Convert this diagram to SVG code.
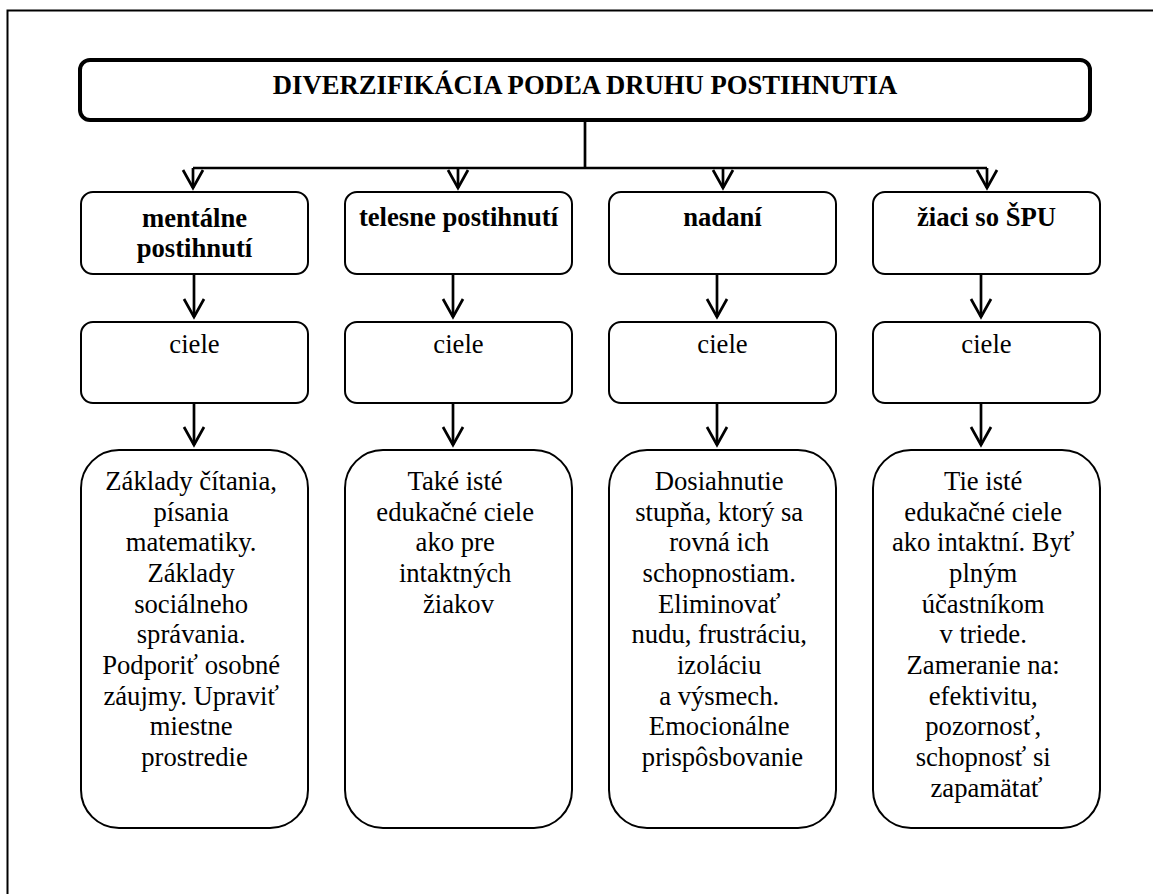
<svg xmlns="http://www.w3.org/2000/svg" width="1153" height="894" viewBox="0 0 1153 894">
  <style>
    .t { font-family: "Liberation Serif", "Times New Roman", serif; font-size: 26.67px; fill: #000; text-anchor: middle; }
    .b { font-weight: bold; }
    .box { fill: #fff; stroke: #000; stroke-width: 2; }
    .conn { fill: none; stroke: #000; stroke-width: 2.7; }
  </style>
  <defs>
    <marker id="vhead" markerUnits="userSpaceOnUse" viewBox="-21 -12 24 24" refX="0" refY="0" markerWidth="24" markerHeight="24" orient="auto">
      <path d="M-18,-10 L0,0 L-18,10" fill="none" stroke="#000" stroke-width="2.7"/>
    </marker>
  </defs>
  <rect width="1153" height="894" fill="#fff"/>

  <!-- page frame (left and top edges only) -->
  <path d="M7.5,894 V10.5 H1153" fill="none" stroke="#000" stroke-width="2"/>

  <!-- connectors -->
  <g id="connectors">
    <path class="conn" d="M585,120 V168" stroke-width="3.3"/>
    <path class="conn" d="M193,168 H987" stroke-width="3.3"/>
    <path class="conn" d="M193,168 V188" marker-end="url(#vhead)"/>
    <path class="conn" d="M458,168 V188" marker-end="url(#vhead)"/>
    <path class="conn" d="M723,168 V188" marker-end="url(#vhead)"/>
    <path class="conn" d="M987,168 V188" marker-end="url(#vhead)"/>

    <path class="conn" d="M194,274 V317" marker-end="url(#vhead)"/>
    <path class="conn" d="M453,274 V317" marker-end="url(#vhead)"/>
    <path class="conn" d="M717,274 V317" marker-end="url(#vhead)"/>
    <path class="conn" d="M981,274 V317" marker-end="url(#vhead)"/>

    <path class="conn" d="M194,403 V445" marker-end="url(#vhead)"/>
    <path class="conn" d="M453,403 V445" marker-end="url(#vhead)"/>
    <path class="conn" d="M717,403 V445" marker-end="url(#vhead)"/>
    <path class="conn" d="M981,403 V445" marker-end="url(#vhead)"/>
  </g>

  <!-- root -->
  <g id="root">
    <rect x="80" y="60" width="1010" height="60" rx="10" fill="#fff" stroke="#000" stroke-width="4"/>
    <text class="t b" x="585" y="94">DIVERZIFIKÁCIA PODĽA DRUHU POSTIHNUTIA</text>
  </g>

  <!-- categories -->
  <g id="cat-mentalne">
    <rect class="box" x="81" y="192" width="227" height="82" rx="12" stroke-width="2.6"/>
    <text class="t b" x="194.5" y="226.5">mentálne</text>
    <text class="t b" x="194.5" y="257">postihnutí</text>
  </g>
  <g id="cat-telesne">
    <rect class="box" x="345" y="192" width="227" height="82" rx="12"/>
    <text class="t b" x="458.5" y="225.5">telesne postihnutí</text>
  </g>
  <g id="cat-nadani">
    <rect class="box" x="609" y="192" width="227" height="82" rx="12"/>
    <text class="t b" x="722.5" y="225.5">nadaní</text>
  </g>
  <g id="cat-spu">
    <rect class="box" x="873" y="192" width="227" height="82" rx="12"/>
    <text class="t b" x="986.5" y="225.5">žiaci so ŠPU</text>
  </g>

  <!-- goals headers -->
  <g id="ciele-1">
    <rect class="box" x="81" y="322" width="227" height="81" rx="12"/>
    <text class="t" x="194.5" y="353">ciele</text>
  </g>
  <g id="ciele-2">
    <rect class="box" x="345" y="322" width="227" height="81" rx="12"/>
    <text class="t" x="458.5" y="353">ciele</text>
  </g>
  <g id="ciele-3">
    <rect class="box" x="609" y="322" width="227" height="81" rx="12"/>
    <text class="t" x="722.5" y="353">ciele</text>
  </g>
  <g id="ciele-4">
    <rect class="box" x="873" y="322" width="227" height="81" rx="12"/>
    <text class="t" x="986.5" y="353">ciele</text>
  </g>

  <!-- goal descriptions -->
  <g id="goals-1">
    <rect class="box" x="81" y="450" width="227" height="378" rx="38"/>
    <text class="t" x="194.5" y="490">
      <tspan x="194.5" dy="0">Základy čítania,</tspan>
      <tspan x="194.5" dy="30.67">písania</tspan>
      <tspan x="194.5" dy="30.67">matematiky.</tspan>
      <tspan x="194.5" dy="30.67">Základy</tspan>
      <tspan x="194.5" dy="30.67">sociálneho</tspan>
      <tspan x="194.5" dy="30.67">správania.</tspan>
      <tspan x="194.5" dy="30.67">Podporiť osobné</tspan>
      <tspan x="194.5" dy="30.67">záujmy. Upraviť</tspan>
      <tspan x="194.5" dy="30.67">miestne</tspan>
      <tspan x="194.5" dy="30.67">prostredie</tspan>
    </text>
  </g>
  <g id="goals-2">
    <rect class="box" x="345" y="450" width="227" height="378" rx="38"/>
    <text class="t" x="458.5" y="490">
      <tspan x="458.5" dy="0">Také isté</tspan>
      <tspan x="458.5" dy="30.67">edukačné ciele</tspan>
      <tspan x="458.5" dy="30.67">ako pre</tspan>
      <tspan x="458.5" dy="30.67">intaktných</tspan>
      <tspan x="458.5" dy="30.67">žiakov</tspan>
    </text>
  </g>
  <g id="goals-3">
    <rect class="box" x="609" y="450" width="227" height="378" rx="38"/>
    <text class="t" x="722.5" y="490">
      <tspan x="722.5" dy="0">Dosiahnutie</tspan>
      <tspan x="722.5" dy="30.67">stupňa, ktorý sa</tspan>
      <tspan x="722.5" dy="30.67">rovná ich</tspan>
      <tspan x="722.5" dy="30.67">schopnostiam.</tspan>
      <tspan x="722.5" dy="30.67">Eliminovať</tspan>
      <tspan x="722.5" dy="30.67">nudu, frustráciu,</tspan>
      <tspan x="722.5" dy="30.67">izoláciu</tspan>
      <tspan x="722.5" dy="30.67">a výsmech.</tspan>
      <tspan x="722.5" dy="30.67">Emocionálne</tspan>
      <tspan x="722.5" dy="30.67">prispôsbovanie</tspan>
    </text>
  </g>
  <g id="goals-4">
    <rect class="box" x="873" y="450" width="227" height="378" rx="38"/>
    <text class="t" x="986.5" y="490">
      <tspan x="986.5" dy="0">Tie isté</tspan>
      <tspan x="986.5" dy="30.67">edukačné ciele</tspan>
      <tspan x="986.5" dy="30.67">ako intaktní. Byť</tspan>
      <tspan x="986.5" dy="30.67">plným</tspan>
      <tspan x="986.5" dy="30.67">účastníkom</tspan>
      <tspan x="986.5" dy="30.67">v triede.</tspan>
      <tspan x="986.5" dy="30.67">Zameranie na:</tspan>
      <tspan x="986.5" dy="30.67">efektivitu,</tspan>
      <tspan x="986.5" dy="30.67">pozornosť,</tspan>
      <tspan x="986.5" dy="30.67">schopnosť si</tspan>
      <tspan x="986.5" dy="30.67">zapamätať</tspan>
    </text>
  </g>
</svg>
